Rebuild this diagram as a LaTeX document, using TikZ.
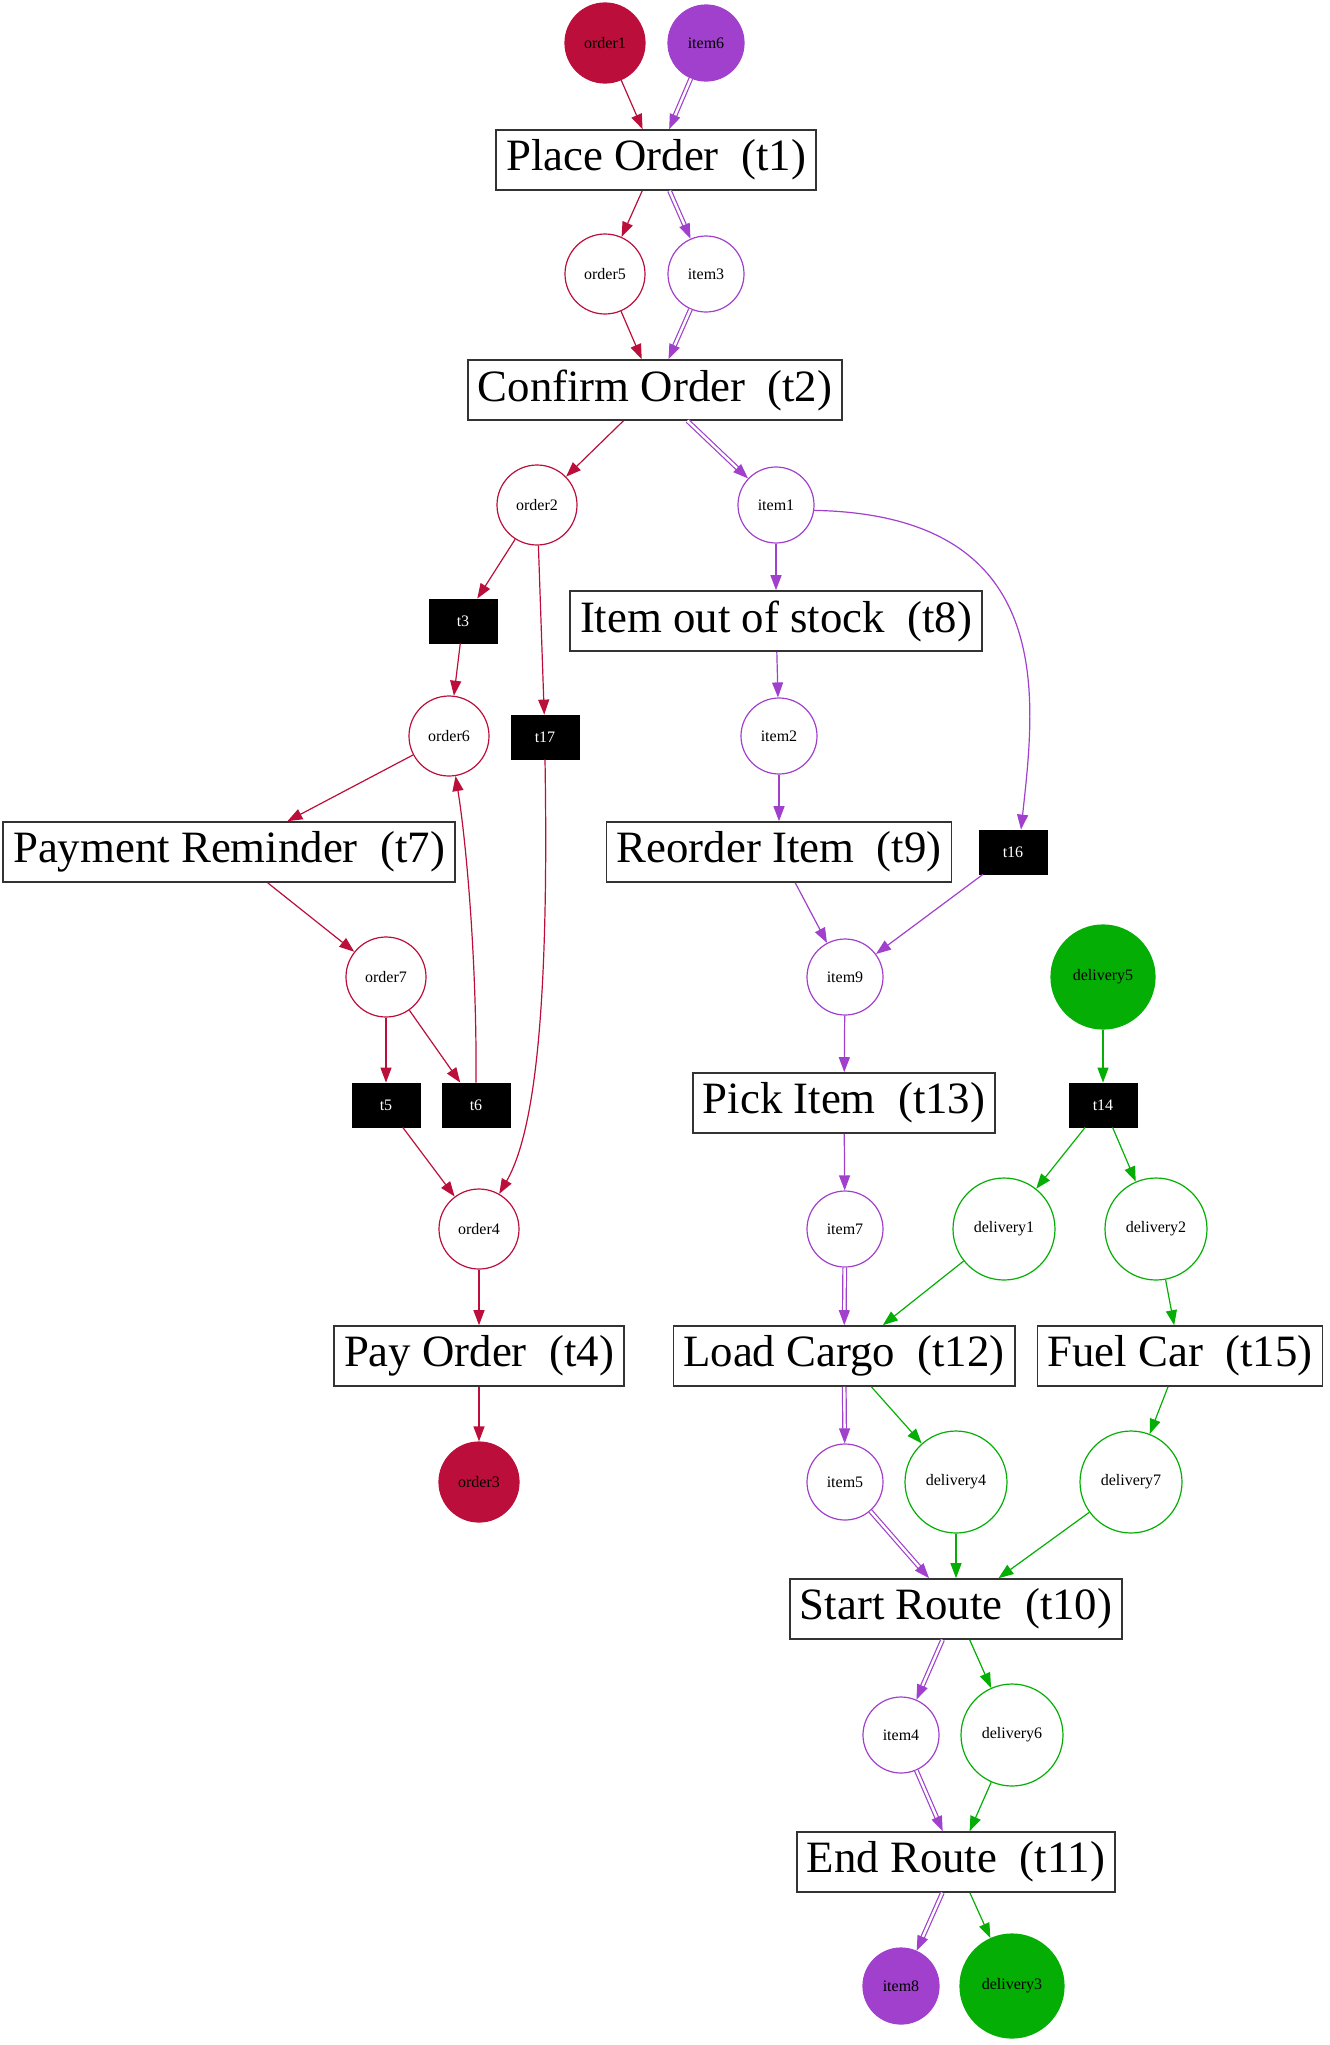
\documentclass[tikz,border=0pt]{standalone}
\usepackage{fontspec}
\setmainfont{Liberation Serif}
\usetikzlibrary{arrows.meta}
\definecolor{ocol}{HTML}{BC0E3A}
\definecolor{icol}{HTML}{A040CC}
\definecolor{dcol}{HTML}{05AE05}
\newcommand\bigfnt{\fontsize{22.4pt}{26pt}\selectfont}
\newcommand\smfnt{\fontsize{8pt}{9pt}\selectfont}
\tikzset{
  place/.style={circle, draw, line width=0.6pt, inner sep=0pt, font=\smfnt, text=black},
  oplace/.style={place, draw=ocol, minimum size=40pt},
  iplace/.style={place, draw=icol, minimum size=38pt},
  dplace/.style={place, draw=dcol, minimum size=51pt},
  trans/.style={rectangle, draw=black!80, line width=0.8pt, fill=white, minimum height=30pt, inner xsep=5pt, inner ysep=0pt, font=\bigfnt},
  silent/.style={rectangle, draw=black, fill=black, minimum width=34pt, minimum height=22pt, inner sep=0pt, text=white, font=\smfnt},
  arr/.style={line width=0.6pt, -{Triangle[length=7.5pt,width=5.5pt]}},
  oarr/.style={arr, draw=ocol},
  iarr/.style={arr, draw=icol},
  darr/.style={arr, draw=dcol},
  dbl/.style={iarr, double=white, double distance=1.2pt}
}
\begin{document}
\begin{tikzpicture}[x=0.5pt,y=-0.5pt]
\useasboundingbox (0,0) rectangle (1329,2045);
% places
\node[oplace, fill=ocol] (order1) at (605,43) {order1};
\node[iplace, fill=icol] (item6) at (706,43) {item6};
\node[oplace] (order5) at (605,274) {order5};
\node[iplace] (item3) at (706,274) {item3};
\node[oplace] (order2) at (537,505) {order2};
\node[iplace] (item1) at (776,505) {item1};
\node[oplace] (order6) at (449,736) {order6};
\node[iplace] (item2) at (779,736) {item2};
\node[oplace] (order7) at (386,977) {order7};
\node[iplace] (item9) at (845,977) {item9};
\node[dplace, fill=dcol, minimum size=52pt] (delivery5) at (1103,977) {delivery5};
\node[oplace] (order4) at (479,1229) {order4};
\node[iplace] (item7) at (845,1229) {item7};
\node[dplace] (delivery1) at (1004,1229) {delivery1};
\node[dplace] (delivery2) at (1156,1229) {delivery2};
\node[oplace, fill=ocol] (order3) at (479,1482) {order3};
\node[iplace] (item5) at (845,1482) {item5};
\node[dplace] (delivery4) at (956,1482) {delivery4};
\node[dplace] (delivery7) at (1131,1482) {delivery7};
\node[iplace] (item4) at (901,1735) {item4};
\node[dplace] (delivery6) at (1012,1735) {delivery6};
\node[iplace, fill=icol] (item8) at (901,1986) {item8};
\node[dplace, fill=dcol, minimum size=52pt] (delivery3) at (1012,1986) {delivery3};
% transitions
\node[trans] (t1) at (656,160) {Place Order~~(t1)};
\node[trans] (t2) at (655,390) {Confirm Order~~(t2)};
\node[silent] (t3) at (463,621) {t3};
\node[trans] (t8) at (776,621) {Item out of stock~~(t8)};
\node[silent] (t17) at (545,737) {t17};
\node[trans] (t7) at (229,852) {Payment Reminder~~(t7)};
\node[trans] (t9) at (779,852) {Reorder Item~~(t9)};
\node[silent] (t16) at (1013,852) {t16};
\node[silent] (t5) at (386,1105) {t5};
\node[silent] (t6) at (476,1105) {t6};
\node[trans] (t13) at (844,1103) {Pick Item~~(t13)};
\node[silent] (t14) at (1103,1105) {t14};
\node[trans] (t4) at (479,1356) {Pay Order~~(t4)};
\node[trans] (t12) at (844,1356) {Load Cargo~~(t12)};
\node[trans] (t15) at (1180,1356) {Fuel Car~~(t15)};
\node[trans] (t10) at (956,1609) {Start Route~~(t10)};
\node[trans] (t11) at (956,1862) {End Route~~(t11)};
% order edges
\draw[oarr] (order1) -- (t1);
\draw[oarr] (t1) -- (order5);
\draw[oarr] (order5) -- (t2);
\draw[oarr] (t2) -- (order2);
\draw[oarr] (order2) -- (t3);
\draw[oarr] (order2) -- (t17);
\draw[oarr] (t3) -- (order6);
\draw[oarr] (order6) -- (t7);
\draw[oarr] (t7) -- (order7);
\draw[oarr] (order7) -- (t5);
\draw[oarr] (order7) -- (t6);
\draw[oarr] (t6.north) .. controls (477,960) and (466,840) .. (order6);
\draw[oarr] (t5) -- (order4);
\draw[oarr] (t17.south) .. controls (549,1000) and (536,1130) .. (order4);
\draw[oarr] (order4) -- (t4);
\draw[oarr] (t4) -- (order3);
% item edges
\draw[dbl] (item6) -- (t1);
\draw[dbl] (t1) -- (item3);
\draw[dbl] (item3) -- (t2);
\draw[dbl] (t2) -- (item1);
\draw[iarr] (item1) -- (t8);
\draw[iarr] (item1.-8) .. controls (1060,515) and (1035,700) .. ([xshift=4pt]t16.north);
\draw[iarr] (t8) -- (item2);
\draw[iarr] (item2) -- (t9);
\draw[iarr] (t9) -- (item9);
\draw[iarr] (t16) -- (item9);
\draw[iarr] (item9) -- (t13);
\draw[iarr] (t13) -- (item7);
\draw[dbl] (item7) -- (t12);
\draw[dbl] (t12) -- (item5);
\draw[dbl] (item5) -- (t10);
\draw[dbl] (t10) -- (item4);
\draw[dbl] (item4) -- (t11);
\draw[dbl] (t11) -- (item8);
% delivery edges
\draw[darr] (delivery5) -- (t14);
\draw[darr] (t14) -- (delivery1);
\draw[darr] (t14) -- (delivery2);
\draw[darr] (delivery1) -- (t12);
\draw[darr] (delivery2) -- (t15);
\draw[darr] (t12) -- (delivery4);
\draw[darr] (t15) -- (delivery7);
\draw[darr] (delivery4) -- (t10);
\draw[darr] (delivery7) -- (t10);
\draw[darr] (t10) -- (delivery6);
\draw[darr] (delivery6) -- (t11);
\draw[darr] (t11) -- (delivery3);
\end{tikzpicture}
\end{document}
